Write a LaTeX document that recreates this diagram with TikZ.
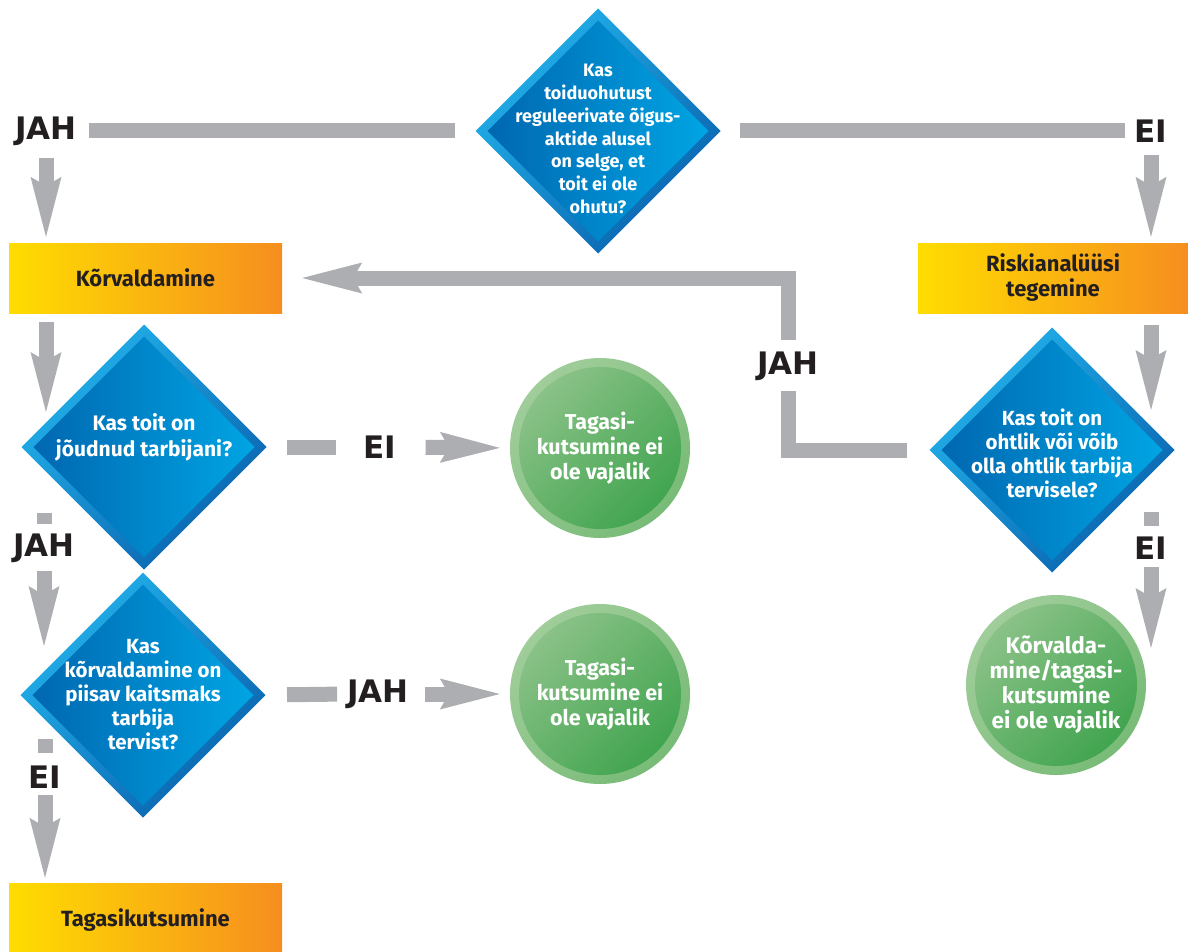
\documentclass[tikz,border=0pt]{standalone}
\usepackage{fontspec}
\setmainfont{Fira Sans}
\newfontfamily\answerfont{DejaVu Sans}
\usetikzlibrary{arrows.meta, positioning, shapes.geometric, calc}

\definecolor{qcyan}{HTML}{00A8E6}
\definecolor{qdeep}{HTML}{0064AE}
\definecolor{qrim}{HTML}{22B2EC}
\definecolor{qrimdark}{HTML}{0A62AE}
\definecolor{boxyellow}{HTML}{FFDD00}
\definecolor{boxorange}{HTML}{F68E1F}
\definecolor{okgreen}{HTML}{3DA34C}
\definecolor{oklight}{HTML}{8EC38A}
\definecolor{ringlight}{HTML}{A0CD9A}
\definecolor{ringdark}{HTML}{78BB77}
\definecolor{bargray}{HTML}{ADAEB1}
\definecolor{inkblack}{HTML}{231F20}

\begin{document}
\begin{tikzpicture}[
    x=1pt, y=-1pt,
    every node/.style={font=\bfseries},
    question/.style={diamond, minimum width=245pt, minimum height=245pt,
        inner sep=0pt, outer sep=0pt,
        top color=qrim, bottom color=qrimdark, shading angle=45,
        path picture={\shade[left color=qdeep, right color=qcyan]
            ($(path picture bounding box.north)+(0pt,-12pt)$) --
            ($(path picture bounding box.east)+(-12pt,0pt)$) --
            ($(path picture bounding box.south)+(0pt,12pt)$) --
            ($(path picture bounding box.west)+(12pt,0pt)$) -- cycle;}},
    qtext/.style={text=white, align=center,
        font=\bfseries\fontsize{20.5}{24}\selectfont},
    action/.style={rectangle, minimum width=273pt, minimum height=70pt,
        inner sep=0pt, left color=boxyellow, right color=boxorange,
        text=inkblack, align=center,
        font=\bfseries\fontsize{22}{25}\selectfont},
    okcircle/.style={circle, minimum size=180pt, inner sep=0pt,
        top color=ringlight, bottom color=ringdark, shading angle=45,
        text=white, align=center,
        font=\bfseries\fontsize{21.5}{25}\selectfont,
        path picture={\shade[top color=oklight, bottom color=okgreen,
            shading angle=45]
            (path picture bounding box.center) circle[radius=81pt];}},
    answer/.style={text=inkblack, inner sep=0pt,
        font=\answerfont\bfseries\fontsize{31}{31}\selectfont},
    bar/.style={draw=bargray, line width=15pt},
    flow/.style={bar,
        -{Stealth[length=60pt, width=31pt, inset=9pt, line width=0pt 0 0]}},
]
\useasboundingbox (0,0) rectangle (1188,952);

% questions
\node[question, label={[qtext, yshift=-8pt,
    font=\bfseries\fontsize{18}{22.7}\selectfont]center:{Kas\\toiduohutust\\
    reguleerivate õigus-\\aktide alusel\\on selge, et\\toit ei ole\\ohutu?}}]
    (qlegal) at (598,131) {};
\node[question, label={[qtext, yshift=10pt,
    font=\bfseries\fontsize{21}{26}\selectfont]center:{Kas toit on\\
    jõudnud tarbijani?}}] (qreach) at (144,447) {};
\node[question, label={[qtext]center:{Kas\\kõrvaldamine on\\
    piisav kaitsmaks\\tarbija\\tervist?}}] (qsuff) at (143,695) {};
\node[question, label={[qtext, yshift=-3pt]center:{Kas toit on\\
    ohtlik või võib\\olla ohtlik tarbija\\tervisele?}}] (qrisk) at (1052,450) {};

% actions
\node[action] (bremove) at (145.5,278) {Kõrvaldamine};
\node[action, minimum width=270pt] (brisk) at (1053,278)
    {Riskianalüüsi\\tegemine};
\node[action, minimum height=74pt] (brecall) at (145.5,920)
    {Tagasikutsumine};

% outcomes
\node[okcircle] (cnone1) at (600,448) {Tagasi-\\kutsumine ei\\ole vajalik};
\node[okcircle] (cnone2) at (600,694) {Tagasi-\\kutsumine ei\\ole vajalik};
\node[okcircle, font=\bfseries\fontsize{22.5}{25}\selectfont] (cnone3)
    at (1056,685) {Kõrvalda-\\mine/tagasi-\\kutsumine\\ei ole vajalik};

% answers
\node[answer] (ljah1) at (46,131) {JAH};
\node[answer] (lei1) at (1151,131) {EI};
\node[answer] (ljah2) at (788,366) {JAH};
\node[answer] (lei2) at (380,447) {EI};
\node[answer] (ljah3) at (44,548) {JAH};
\node[answer] (ljah4) at (378,694) {JAH};
\node[answer] (lei3) at (45,777) {EI};
\node[answer] (lei4) at (1151,548) {EI};

% connectors
\draw[bar, shorten <=20.5pt, shorten >=12pt] (qlegal.west) -- (ljah1.east);
\draw[flow, shorten <=12.5pt, shorten >=6pt]
    (ljah1.south) -- (ljah1.south |- bremove.north);
\draw[bar, shorten <=19.5pt, shorten >=9pt] (qlegal.east) -- (lei1.west);
\draw[flow, shorten <=12.5pt, shorten >=6pt]
    (lei1.south) -- (lei1.south |- brisk.north);
\draw[flow, shorten <=12pt, shorten >=40pt]
    (lei1 |- brisk.south) -- (lei1 |- qrisk.east);
\draw[bar, shorten <=62pt, shorten >=10.5pt] (lei4 |- qrisk.east) -- (lei4.north);
\draw[flow, shorten <=7.5pt, shorten >=37pt]
    (lei4.south) -- (lei4 |- cnone3.center);
\draw[bar, shorten <=22.5pt, shorten >=10.5pt] (qrisk.west) -| (ljah2.south);
\draw[flow, shorten <=11.5pt, shorten >=20pt] (ljah2.north) |- (bremove.east);
\draw[flow, shorten <=9pt, shorten >=35pt]
    (ljah1 |- bremove.south) -- (ljah1 |- qreach.center);
\draw[bar, shorten <=20.5pt, shorten >=27pt] (qreach.east) -- (lei2.west);
\draw[flow, shorten <=29pt, shorten >=10pt] (lei2.east) -- (cnone1.west);
\draw[bar, shorten <=66pt, shorten >=9.5pt] (ljah3 |- qreach.center) -- (ljah3.north);
\draw[flow, shorten <=8.5pt, shorten >=49pt]
    (ljah3.south) -- (ljah3 |- qsuff.center);
\draw[bar, shorten <=21.5pt, shorten >=10pt] (qsuff.east) -- (ljah4.west);
\draw[flow, shorten <=16pt, shorten >=10pt] (ljah4.east) -- (cnone2.west);
\draw[bar, shorten <=44pt, shorten >=12.5pt] (lei3 |- qsuff.center) -- (lei3.north);
\draw[flow, shorten <=6.5pt, shorten >=5pt]
    (lei3.south) -- (lei3.south |- brecall.north);

\end{tikzpicture}
\end{document}
